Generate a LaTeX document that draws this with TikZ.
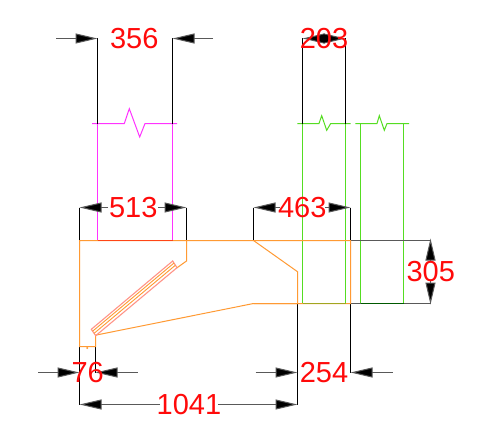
\documentclass[tikz,border=0pt]{standalone}
\usepackage{fontspec}
\setmainfont{Liberation Sans}
\usetikzlibrary{arrows.meta}
\definecolor{dimred}{HTML}{FF0A0A}
\definecolor{orng}{HTML}{FF9A33}
\definecolor{salm}{HTML}{FF9488}
\definecolor{magn}{HTML}{FF33FF}
\definecolor{grn}{HTML}{55DD22}
\tikzset{
  ext/.style={black,line width=1pt},
  dimline/.style={draw=black!65,line width=1pt},
  dimarrow/.style={draw=black!65,line width=1pt,-{Triangle[length=22pt,width=10pt,fill=black]}},
  dimlabel/.style={text=dimred,font=\fontsize{29}{30}\selectfont,inner sep=0pt},
  body/.style={orng,line width=1pt,line join=miter},
  louvre/.style={salm,line width=1.1pt},
  pink/.style={magn,line width=1pt},
  green/.style={grn,line width=1pt},
}
\begin{document}
\begin{tikzpicture}[x=1pt,y=-1pt]
\useasboundingbox (0,0) rectangle (477,428);
\fill[white] (0,0) rectangle (477,428);

% named points
\coordinate (A) at (79.5,240.5);
\coordinate (A2) at (79.5,346.5);
\coordinate (B) at (95.5,346.5);
\coordinate (B2) at (95.5,335.2);
\coordinate (C) at (253.5,303.5);
\coordinate (D) at (297.5,303.5);
\coordinate (D2) at (297.5,271.7);
\coordinate (E) at (253.5,240.5);
\coordinate (F) at (350.5,240.5);
\coordinate (G) at (350.5,303.5);
\coordinate (H) at (186.5,240.5);
\coordinate (H2) at (186.5,261);
\coordinate (H3) at (176.7,268);

% magenta column
\draw[pink] (97.5,123.5) -- (97.5,240.5) (172.5,123.5) -- (172.5,240.5);
\draw[pink] (92,123.5) -- (124.3,123.5) -- (129.3,108.7) -- (139.7,137) -- (145,123.5) -- (177,123.5);

% green columns
\draw[green] (302.5,123.5) -- (302.5,303.5) (345.5,123.5) -- (345.5,303.5);
\draw[green] (360.5,123.5) -- (360.5,303.5) (403.5,123.5) -- (403.5,303.5);
\draw[green] (297.3,123.5) -- (319,123.5) -- (321.7,115.7) -- (326.7,130.3) -- (330.7,123.5) -- (350.7,123.5);
\draw[green] (355.3,123.5) -- (377,123.5) -- (379.3,115.7) -- (384.3,130.3) -- (387,123.5) -- (409,123.5);

% extension lines
\draw[ext] (97.5,38.5) -- (97.5,123.5) (172.5,38.5) -- (172.5,123.5);
\draw[ext] (302.5,38.5) -- (302.5,123.5) (345.5,38.5) -- (345.5,123.5);
\draw[ext] (79.5,207.5) -- (A) (186.5,207.5) -- (H);
\draw[ext] (253.5,207.5) -- (E) (350.5,207.5) -- (F);
\draw[ext] (A2) -- (79.5,404.5) (B) -- (95.5,372.5);
\draw[ext] (D) -- (297.5,404.5) (G) -- (350.5,372.5);
\draw[dimline] (F) -- (430.5,240.5) (G) -- (430.5,303.5);

% orange outline
\draw[body] (A) -- (F) -- (G) -- (C) -- (B2) -- (B) -- (A2) -- cycle;
\draw[body] (C) -- (D) -- (D2) -- (E);
\draw[body] (H) -- (H2) -- (H3);
\fill[orng] (87.3,348) circle (1.1);
\draw[red!55!orng,line width=1pt] (97.5,240.5) -- (172.5,240.5);
\draw[orng!70!green!90!black,line width=1pt] (302.5,303.5) -- (345.5,303.5);
\draw[green!35!black,line width=1pt] (360.5,303.5) -- (403.5,303.5);

% louvre
\draw[louvre] (91.3,329.3) -- (172.7,261) -- (177,267.7) -- (95.7,335.7) -- cycle;
\draw[body,line width=0.9pt] (92.6,331.2) -- (174,263);
\draw[body,line width=0.9pt] (94,333.4) -- (175.4,265.2);

% dimension 356
\draw[dimarrow] (56,38.5) -- (97.5,38.5);
\draw[dimarrow] (213,38.5) -- (172.5,38.5);
\node[dimlabel] (t356) at (134.3,38.3) {356};

% dimension 203
\draw[dimarrow] (324.5,38.5) -- (302.5,38.5);
\draw[dimarrow] (323.5,38.5) -- (345.5,38.5);
\fill[black] (324,38.5) circle (4.2);
\node[dimlabel] (t203) at (324,38.3) {203};

% dimension 513
\draw[dimarrow] (108,207.5) -- (79.5,207.5);
\draw[dimarrow] (158,207.5) -- (186.5,207.5);
\node[dimlabel] (t513) at (133.3,207.7) {513};

% dimension 463
\draw[dimarrow] (280,207.5) -- (253.5,207.5);
\draw[dimarrow] (325,207.5) -- (350.5,207.5);
\node[dimlabel] (t463) at (302.3,207.7) {463};

% dimension 305
\draw[dimarrow] (430.5,262) -- (430.5,238.5);
\draw[dimarrow] (430.5,281) -- (430.5,304.5);
\node[dimlabel] (t305) at (430.7,271.7) {305};

% dimension 76
\draw[dimarrow] (38,372.5) -- (79.5,372.5);
\draw[dimarrow] (137.5,372.5) -- (95.5,372.5);
\node[dimlabel] (t76) at (87.7,372.7) {76};

% dimension 254
\draw[dimarrow] (255.5,372.5) -- (297.5,372.5);
\draw[dimarrow] (392.5,372.5) -- (350.5,372.5);
\node[dimlabel] (t254) at (324,372.7) {254};

% dimension 1041
\draw[dimarrow] (160,404.5) -- (79.5,404.5);
\draw[dimarrow] (218,404.5) -- (297.5,404.5);
\node[dimlabel] (t1041) at (189,404.7) {1041};
\end{tikzpicture}
\end{document}
